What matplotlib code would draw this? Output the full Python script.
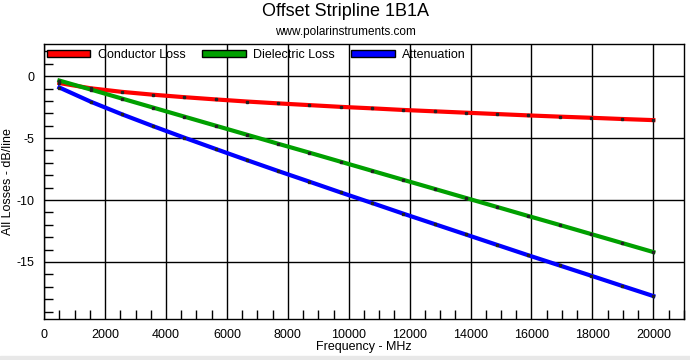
import matplotlib.pyplot as plt
from matplotlib.patches import Patch, Rectangle
from matplotlib.ticker import MultipleLocator

plt.rcParams['font.family'] = ['Liberation Sans', 'DejaVu Sans']
plt.rcParams['axes.unicode_minus'] = False

# Frequency points (MHz)
freq = [500, 1526, 2553, 3579, 4605, 5632, 6658, 7684, 8711, 9737,
        10763, 11789, 12816, 13842, 14868, 15895, 16921, 17947, 18974, 20000]

# Losses (dB/line)
conductor = [-0.56, -0.98, -1.27, -1.50, -1.70, -1.88, -2.05, -2.20, -2.34, -2.48,
             -2.60, -2.73, -2.84, -2.95, -3.06, -3.17, -3.27, -3.36, -3.46, -3.55]
dielectric = [-0.36, -1.08, -1.81, -2.54, -3.27, -4.00, -4.73, -5.46, -6.18, -6.91,
              -7.64, -8.37, -9.10, -9.83, -10.56, -11.29, -12.01, -12.74, -13.47, -14.20]
attenuation = [-0.92, -2.06, -3.08, -4.04, -4.97, -5.88, -6.78, -7.66, -8.52, -9.39,
               -10.24, -11.10, -11.94, -12.78, -13.62, -14.46, -15.28, -16.10, -16.93, -17.75]

series = [("Conductor Loss", conductor, "#ff0000"),
          ("Dielectric Loss", dielectric, "#00a000"),
          ("Attenuation", attenuation, "#0000ff")]

fig = plt.figure(figsize=(6.9, 3.6), dpi=100)
fig.patches.append(Rectangle((0, 0), 1, 0.01, transform=fig.transFigure,
                             color="#e8e8e8", zorder=0))
ax = fig.add_axes([0.064, 0.114, 0.927, 0.764])

for name, vals, col in series:
    ax.plot(freq, vals, color=col, linewidth=3, zorder=3)
    ax.plot(freq, vals, linestyle='none', marker='s', markersize=1.6,
            color='#222222', zorder=4)

ax.set_xlim(0, 21000)
ax.set_ylim(-19.6, 2.6)
ax.xaxis.set_major_locator(MultipleLocator(2000))
ax.xaxis.set_minor_locator(MultipleLocator(500))
ax.set_yticks([-15, -10, -5, 0])
ax.yaxis.set_minor_locator(MultipleLocator(1))
ax.set_xticks(range(0, 20001, 2000))
ax.grid(which='major', color='black', linewidth=1)
ax.tick_params(which='major', length=0, labelsize=9)
ax.tick_params(axis='x', which='major', pad=7)
ax.tick_params(axis='y', which='major', pad=7)
ax.tick_params(which='minor', direction='in', length=6.5, width=1, color='black')
for s in ax.spines.values():
    s.set_linewidth(1)

ax.set_xlabel("Frequency - MHz", fontsize=9, labelpad=0)
ax.set_ylabel("All Losses - dB/line", fontsize=9)
ax.yaxis.set_label_coords(-0.047, 0.5)

handles = [Patch(facecolor=c, edgecolor='black', label=n) for n, _, c in series]
ax.legend(handles=handles, loc='upper left', ncol=3, frameon=False, fontsize=9,
          handlelength=3.5, handleheight=0.6, columnspacing=1.3, handletextpad=0.6,
          borderaxespad=0.0, bbox_to_anchor=(-0.004, 1.0))

fig.text(0.5, 0.968, "Offset Stripline 1B1A", ha='center', va='center', fontsize=13)
fig.text(0.5, 0.911, "www.polarinstruments.com", ha='center', va='center', fontsize=8.5)

fig.savefig("out.png", dpi=100)
